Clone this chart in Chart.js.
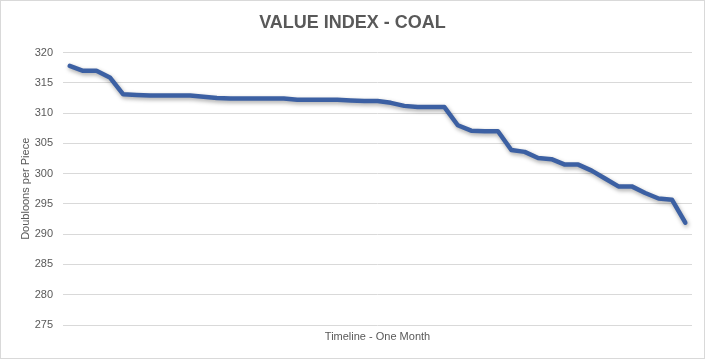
<!DOCTYPE html>
<html>
<head>
<meta charset="utf-8">
<script src="https://cdn.jsdelivr.net/npm/chart.js@4"></script>
<style>
  html, body { margin: 0; padding: 0; background: #fff; }
  #wrap { width: 705px; height: 359px; position: relative; }
</style>
</head>
<body>
<div id="wrap"><canvas id="coalChart" width="705" height="359"></canvas></div>
<script>
// one point per reading over the month
const days = [
  '1', '2', '3', '4', '5', '6', '7', '8', '9', '10', '11', '12',
  '13', '14', '15', '16', '17', '18', '19', '20', '21', '22', '23', '24',
  '25', '26', '27', '28', '29', '30', '31', '32', '33', '34', '35', '36',
  '37', '38', '39', '40', '41', '42', '43', '44', '45', '46', '47'
];
const coalValues = [
  317.8, 317.0, 317.0, 315.9, 313.1, 313.0, 312.9, 312.9, 312.9, 312.9,
  312.7, 312.5, 312.4, 312.4, 312.4, 312.4, 312.4, 312.2, 312.2, 312.2,
  312.2, 312.1, 312.0, 312.0, 311.7, 311.2, 311.0, 311.0, 311.0, 308.0,
  307.1, 307.0, 307.0, 303.9, 303.6, 302.6, 302.4, 301.5, 301.5, 300.5,
  299.2, 297.9, 297.9, 296.8, 295.9, 295.7, 291.9
];
const yMin = 275;
const yMax = 320;
const yStep = 5;

const textColor = '#595959';
const gridColor = '#d9d9d9';

const lineShadow = {
  id: 'lineShadow',
  beforeDatasetsDraw(chart) {
    const ctx = chart.ctx;
    ctx.save();
    ctx.shadowColor = 'rgba(0,0,0,0.35)';
    ctx.shadowBlur = 4;
    ctx.shadowOffsetX = 1;
    ctx.shadowOffsetY = 2;
  },
  afterDatasetsDraw(chart) {
    chart.ctx.restore();
  }
};

const frame = {
  id: 'frame',
  afterDraw(chart) {
    const ctx = chart.ctx;
    ctx.save();
    ctx.strokeStyle = gridColor;
    ctx.lineWidth = 1;
    ctx.strokeRect(0.5, 0.5, chart.width - 1, chart.height - 1);
    ctx.restore();
  }
};

new Chart(document.getElementById('coalChart'), {
  type: 'line',
  data: {
    labels: days,
    datasets: [{
      label: 'Coal',
      data: coalValues,
      borderColor: '#3c60a3',
      borderWidth: 4.5,
      borderJoinStyle: 'round',
      borderCapStyle: 'round',
      pointRadius: 0,
      tension: 0,
      fill: false
    }]
  },
  options: {
    responsive: false,
    animation: false,
    layout: { padding: { left: 13, right: 13, top: 0, bottom: 0 } },
    plugins: {
      legend: { display: false },
      tooltip: { enabled: false },
      title: {
        display: true,
        text: 'VALUE INDEX - COAL',
        color: textColor,
        font: { family: "'Liberation Sans Narrow', 'Liberation Sans', sans-serif", size: 18, weight: 'bold' },
        padding: { top: 12, bottom: 19 }
      }
    },
    scales: {
      x: {
        offset: true,
        grid: { display: false },
        border: { display: false },
        ticks: { display: false },
        title: {
          display: true,
          text: 'Timeline - One Month',
          color: textColor,
          font: { family: "'Liberation Sans', sans-serif", size: 11 },
          padding: { top: 0, bottom: 15 }
        },
        afterFit(scale) { scale.height = 34; }
      },
      y: {
        min: yMin,
        max: yMax,
        grid: { color: gridColor, drawTicks: false },
        border: { display: false },
        ticks: {
          stepSize: yStep,
          padding: 10,
          color: textColor,
          font: { family: "'Liberation Sans', sans-serif", size: 11 }
        },
        title: {
          display: true,
          text: 'Doubloons per Piece',
          color: textColor,
          font: { family: "'Liberation Sans', sans-serif", size: 11 },
          padding: { top: 6, bottom: 0 }
        },
        afterFit(scale) { scale.width = 50; }
      }
    }
  },
  plugins: [lineShadow, frame]
});
</script>
</body>
</html>
